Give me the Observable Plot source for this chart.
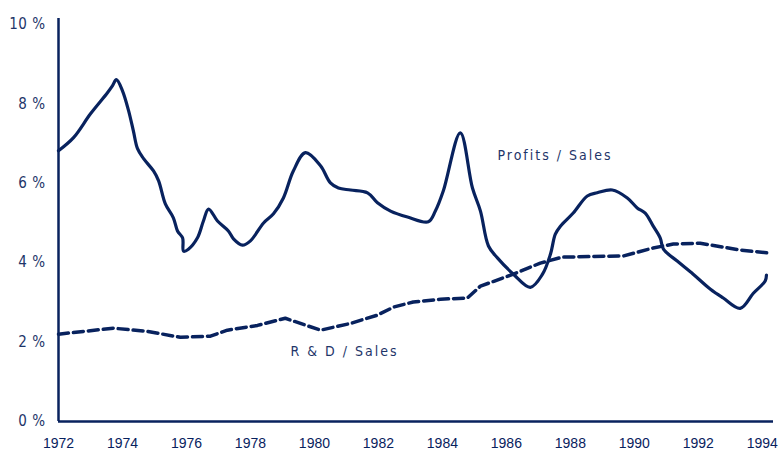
<!DOCTYPE html>
<html>
<head>
<meta charset="utf-8">
<script src="https://cdn.jsdelivr.net/npm/d3@7"></script>
<script src="https://cdn.jsdelivr.net/npm/@observablehq/plot@0.6"></script>
<style>
  html, body { margin: 0; padding: 0; background: #fff; }
  #chart svg { display: block; }
</style>
</head>
<body>
<div id="chart"></div>
<script>
// Profits / Sales (%) by year
const profitYears = [1972.00,1972.47,1973.00,1973.53,1973.69,1973.81,1974.00,1974.19,1974.34,1974.47,1974.66,1974.97,1975.13,1975.34,1975.59,1975.72,1975.88,1975.91,1976.06,1976.34,1976.53,1976.69,1976.97,1977.31,1977.47,1977.75,1978.00,1978.41,1978.72,1979.03,1979.34,1979.72,1980.19,1980.50,1980.75,1981.13,1981.66,1981.97,1982.38,1982.91,1983.56,1983.78,1984.03,1984.56,1984.94,1985.19,1985.44,1985.72,1986.22,1986.75,1987.13,1987.38,1987.53,1987.69,1988.09,1988.53,1988.84,1989.31,1989.78,1990.09,1990.34,1990.59,1990.81,1990.91,1991.34,1991.84,1992.38,1992.78,1993.31,1993.72,1994.09,1994.13];
const profitValues = [6.82,7.15,7.75,8.28,8.46,8.61,8.33,7.83,7.32,6.87,6.62,6.31,6.06,5.48,5.13,4.80,4.62,4.29,4.34,4.62,5.05,5.35,5.05,4.80,4.60,4.44,4.55,5.00,5.23,5.63,6.31,6.77,6.44,6.01,5.88,5.83,5.76,5.51,5.30,5.15,5.03,5.30,5.81,7.27,5.88,5.30,4.42,4.12,3.71,3.38,3.71,4.22,4.72,4.92,5.25,5.68,5.76,5.83,5.63,5.38,5.25,4.92,4.62,4.34,4.04,3.71,3.33,3.11,2.85,3.23,3.54,3.69];

// R&D / Sales (%) by year
const rdYears = [1972.00,1973.72,1974.78,1975.81,1976.75,1977.28,1978.22,1979.09,1980.19,1981.13,1981.97,1982.47,1983.09,1983.94,1984.78,1985.19,1986.22,1987.06,1987.75,1989.66,1990.59,1991.22,1992.06,1993.31,1994.25];
const rdValues = [2.20,2.35,2.27,2.12,2.15,2.30,2.42,2.60,2.30,2.47,2.68,2.88,3.01,3.08,3.11,3.41,3.71,3.99,4.14,4.17,4.37,4.47,4.49,4.32,4.24];

const xTicks = [1972,1974,1976,1978,1980,1982,1984,1986,1988,1990,1992,1994];
const yTicks = [0,2,4,6,8,10];

const seriesLabels = ["Profits / Sales", "R & D / Sales"];
const labelYears = [1985.72, 1979.25];
const labelValues = [6.69, 1.77];

const profits = profitYears.map((y, i) => ({year: y, value: profitValues[i]}));
const rd = rdYears.map((y, i) => ({year: y, value: rdValues[i]}));
const labels = seriesLabels.map((t, i) => ({text: t, year: labelYears[i], value: labelValues[i]}));

const navy = "#08225e";
const xDomain = [1972, 1994.35];
const yDomain = [0, 10.15];

const chart = Plot.plot({
  width: 778,
  height: 453,
  marginLeft: 58,
  marginRight: 5,
  marginTop: 18,
  marginBottom: 32,
  style: {background: "#fff", overflow: "visible"},
  x: {domain: xDomain, ticks: xTicks, tickFormat: d => String(d)},
  y: {domain: yDomain, ticks: yTicks, tickFormat: d => d + " %"},
  marks: [
    Plot.axisX({
      ticks: xTicks, tickFormat: d => String(d), tickSize: 0, tickPadding: 17,
      fontSize: 14, fill: navy, fontFamily: "Liberation Sans, Arial, sans-serif", label: null
    }),
    Plot.axisY({
      ticks: yTicks, tickFormat: d => d + " %", tickSize: 0, tickPadding: 13,
      fontSize: 15, fill: "#1e3569", fontFamily: "DejaVu Sans Condensed, DejaVu Sans, sans-serif",
      label: null
    }),
    Plot.ruleX([xDomain[0]], {y1: yDomain[0], y2: yDomain[1], stroke: navy, strokeWidth: 2.5}),
    Plot.ruleY([0], {x1: xDomain[0], x2: xDomain[1], stroke: navy, strokeWidth: 2.5}),
    Plot.line(rd, {x: "year", y: "value", stroke: navy, strokeWidth: 3.5, strokeDasharray: "10,5", curve: "linear"}),
    Plot.line(profits, {x: "year", y: "value", stroke: navy, strokeWidth: 3.2, curve: "catmull-rom", strokeLinejoin: "round"}),
    Plot.text(labels, {x: "year", y: "value", text: "text", textAnchor: "start", fill: "#1e3569",
      fontSize: 14, fontFamily: "DejaVu Sans Condensed, DejaVu Sans, sans-serif"})
  ]
});

d3.select(chart).selectAll("[aria-label='text'] text").style("letter-spacing", "2px");
d3.select(chart).selectAll("[aria-label='y-axis tick label'] text").style("letter-spacing", "0.5px");

document.getElementById("chart").appendChild(chart);
</script>
</body>
</html>
